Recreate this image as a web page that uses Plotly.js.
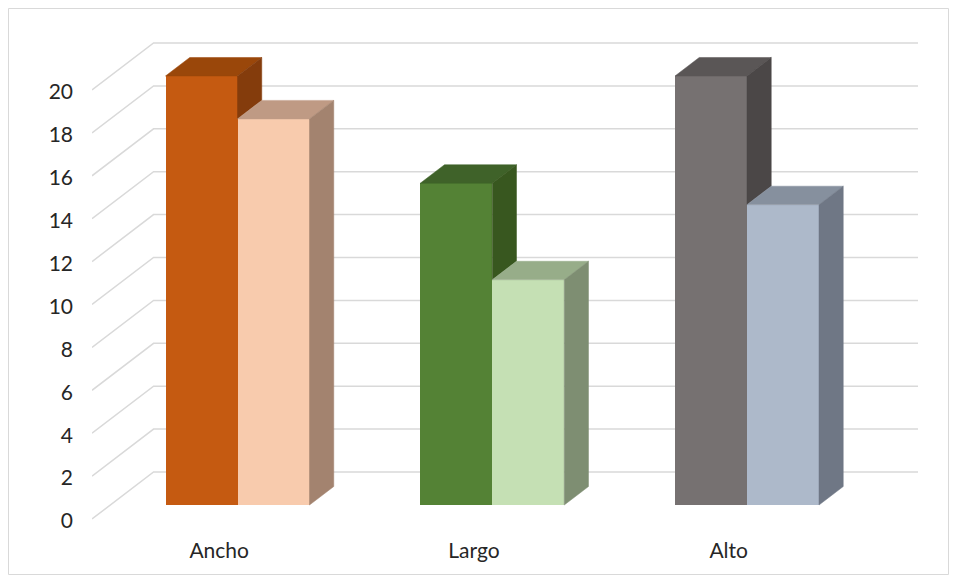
<!DOCTYPE html>
<html>
<head>
<meta charset="utf-8">
<script src="https://cdn.plot.ly/plotly-3.0.1.min.js"></script>
<style>html,body{margin:0;padding:0;background:#fff;}#chart{width:957px;height:581px;}</style>
</head>
<body>
<div id="chart"></div>
<script>
// ---- data ----
const categories = ["Ancho", "Largo", "Alto"];
const seriesA = [20, 15, 20];     // dark bars
const seriesB = [18, 10.5, 14];   // light bars
const yTicks = [0, 2, 4, 6, 8, 10, 12, 14, 16, 18, 20];

// ---- styles ----
const frontA = ["#C55A11", "#548235", "#767171"];
const topA   = ["#9A470A", "#3F6229", "#5A5656"];
const sideA  = ["#843C0C", "#38571F", "#4B4747"];
const frontB = ["#F8CBAD", "#C5E0B4", "#ADB9CA"];
const topB   = ["#BF9A84", "#97AD89", "#86909E"];
const sideB  = ["#A3836F", "#7E8E72", "#6F7785"];

// ---- geometry (layout) ----
const W = 957, H = 581;
const margin = {l: 92, r: 37, t: 40, b: 60, pad: 0};
const xRange = [-0.5712, 2.6791];
const yRange = [-0.746, 21.678];
const plotW = W - margin.l - margin.r, plotH = H - margin.t - margin.b;
const pxX = plotW / (xRange[1] - xRange[0]);
const pxY = plotH / (yRange[1] - yRange[0]);
const K = 1.31;               // horizontal shift per vertical px of depth
const barW = 72 / pxX;
const dFront = -14, dBarBack = 18.5, dWall = 33;
const ox = d => K * d / pxX;   // depth -> data x offset
const oy = d => d / pxY;       // depth -> data y offset

// gridlines (back wall + diagonal floor edges) as shapes below traces
const shapes = [];
const xLeft = xRange[0];
const xRight = xRange[1] - 2 / pxX;
yTicks.forEach(v => {
  const x0 = xLeft, y0 = v + oy(dFront);
  const x1 = xLeft + ox(dWall - dFront), y1 = v + oy(dWall);
  shapes.push({type: "path", xref: "x", yref: "y", layer: "below",
    path: `M${x0},${y0} L${x1},${y1} L${xRight},${y1}`,
    line: {color: "#D9D9D9", width: 1.5}});
});
// chart frame
const px2paperX = p => (p - margin.l) / plotW;
const px2paperY = p => (H - margin.b - p) / plotH;
shapes.push({type: "rect", xref: "paper", yref: "paper", layer: "below",
  x0: px2paperX(8.5), x1: px2paperX(948.5), y0: px2paperY(574.5), y1: px2paperY(8.5),
  line: {color: "#D9D9D9", width: 1}, fillcolor: "rgba(0,0,0,0)"});

const xIdx = categories.map((c, i) => i);
const traces = [];
traces.push({type: "bar", x: xIdx, y: seriesA, width: barW, offset: -barW,
  marker: {color: frontA, line: {width: 0}}, hoverinfo: "skip", showlegend: false});
traces.push({type: "bar", x: xIdx, y: seriesB, width: barW, offset: 0,
  marker: {color: frontB, line: {width: 0}}, hoverinfo: "skip", showlegend: false});

function poly(pts, color) {
  traces.push({type: "scatter", mode: "lines", fill: "toself", fillcolor: color,
    x: pts.map(p => p[0]).concat([pts[0][0]]), y: pts.map(p => p[1]).concat([pts[0][1]]),
    line: {color: color, width: 0.5}, hoverinfo: "skip", showlegend: false});
}
const dx = ox(dBarBack), dy = oy(dBarBack);
xIdx.forEach(i => {
  const D = seriesA[i], L = seriesB[i];
  const a0 = i - barW, a1 = i, b0 = i, b1 = i + barW;
  poly([[a0, D], [a1, D], [a1 + dx, D + dy], [a0 + dx, D + dy]], topA[i]);
  const low = Math.min(L, D);
  if (D > low) poly([[a1, low], [a1, D], [a1 + dx, D + dy], [a1 + dx, low + dy]], sideA[i]);
  poly([[b0, L], [b1, L], [b1 + dx, L + dy], [b0 + dx, L + dy]], topB[i]);
  poly([[b1, 0], [b1, L], [b1 + dx, L + dy], [b1 + dx, dy]], sideB[i]);
});

const font = {family: "Lato, 'Liberation Sans', sans-serif", size: 21, color: "#262626"};
const layout = {
  width: W, height: H, margin: margin,
  paper_bgcolor: "#ffffff", plot_bgcolor: "rgba(0,0,0,0)",
  showlegend: false, bargap: 0,
  xaxis: {range: xRange, showgrid: false, zeroline: false, showline: false,
    tickmode: "array", tickvals: xIdx.map(i => i + ox(dFront)), ticktext: categories,
    ticks: "", ticklabelstandoff: 15, tickfont: font, fixedrange: true},
  yaxis: {range: yRange, showgrid: false, zeroline: false, showline: false,
    tickmode: "array", tickvals: yTicks.map(v => v + oy(dFront) - oy(2)), ticktext: yTicks.map(String),
    ticks: "", ticklabelstandoff: 18, tickfont: font, fixedrange: true},
  shapes: shapes
};
Plotly.newPlot("chart", traces, layout, {staticPlot: true, displayModeBar: false});
</script>
</body>
</html>
